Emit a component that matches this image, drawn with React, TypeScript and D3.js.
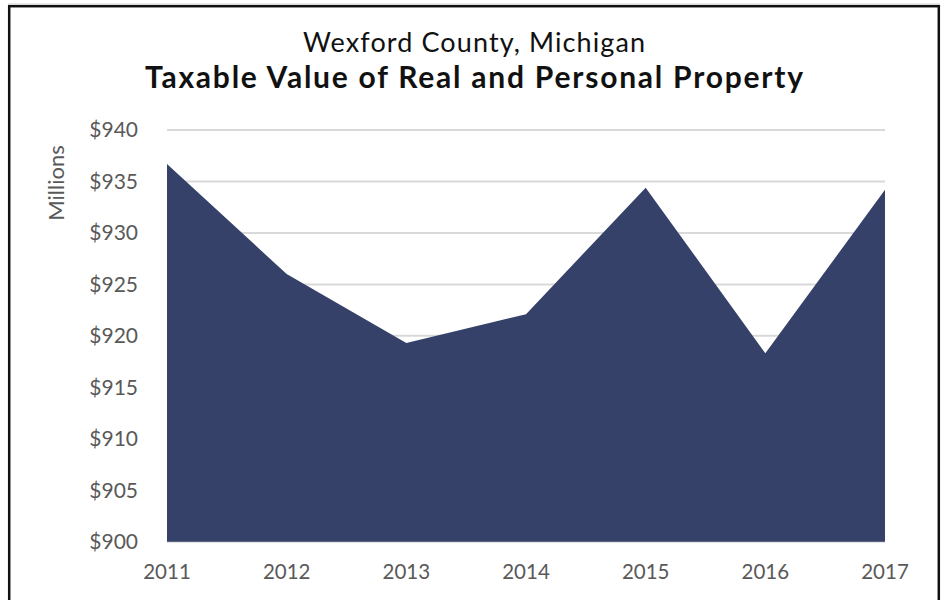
import React from "react";
import * as d3 from "d3";

const years = ["2011", "2012", "2013", "2014", "2015", "2016", "2017"];
const values = [936.7, 926.0, 919.3, 922.1, 934.4, 918.3, 934.2];
const yTicks = [900, 905, 910, 915, 920, 925, 930, 935, 940];
const subtitle = "Wexford County, Michigan";
const title = "Taxable Value of Real and Personal Property";
const yAxisTitle = "Millions";

const W = 944;
const H = 600;
const FONT = "Lato, 'Open Sans', sans-serif";

export default function App() {
  const x = d3.scalePoint<string>().domain(years).range([167, 885]);
  const y = d3.scaleLinear().domain([900, 940]).range([541.7, 130]);
  const data = years.map((yr, i) => ({ yr, v: values[i] }));
  const area = d3
    .area<{ yr: string; v: number }>()
    .x((d) => x(d.yr) as number)
    .y0(y(900))
    .y1((d) => y(d.v));

  return (
    <svg
      width={W}
      height={H}
      style={{ position: "absolute", left: 0, top: 0, background: "#fff" }}
      fontFamily={FONT}
    >
      <rect x={0} y={0} width={W} height={H} fill="#fff" />
      <line x1={8} x2={940} y1={4} y2={4} stroke="#d0d0d0" strokeWidth={1} />
      <rect x={9.2} y={6.2} width={929.6} height={620} fill="none" stroke="#111" strokeWidth={2.5} />
      <text
        x={474}
        y={52}
        textAnchor="middle"
        fontSize={27}
        fill="#111"
        textLength={342}
        lengthAdjust="spacing"
      >
        {subtitle}
      </text>
      <text
        x={474}
        y={88}
        textAnchor="middle"
        fontSize={30}
        fontWeight="bold"
        fill="#111"
        textLength={658}
        lengthAdjust="spacing"
      >
        {title}
      </text>
      {yTicks.map((t) => (
        <g key={t}>
          <line x1={167} x2={885} y1={y(t)} y2={y(t)} stroke="#d9d9d9" strokeWidth={2} />
          <text
            x={138}
            y={y(t)}
            dy="0.35em"
            textAnchor="end"
            fontSize={21}
            fill="#595959"
          >
            {"$" + t}
          </text>
        </g>
      ))}
      <path d={area(data) || ""} fill="#354169" />
      {years.map((yr) => (
        <text
          key={yr}
          x={x(yr) as number}
          y={579}
          textAnchor="middle"
          fontSize={20.5}
          fill="#595959"
        >
          {yr}
        </text>
      ))}
      <text
        transform="translate(64,183) rotate(-90)"
        textAnchor="middle"
        fontSize={22}
        fill="#595959"
      >
        {yAxisTitle}
      </text>
    </svg>
  );
}
